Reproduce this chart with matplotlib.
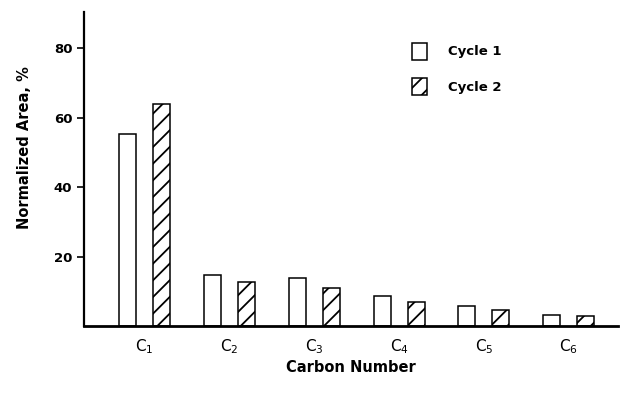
import numpy as np
import matplotlib
matplotlib.use("Agg")
import matplotlib.pyplot as plt

# values
carbon = ["C$_1$", "C$_2$", "C$_3$", "C$_4$", "C$_5$", "C$_6$"]
cycle1 = [55.3, 14.7, 13.8, 8.7, 5.8, 3.3]
cycle2 = [63.9, 12.7, 10.9, 6.8, 4.6, 2.8]

plt.rcParams['mathtext.default'] = 'regular'
plt.rcParams['hatch.linewidth'] = 1.3

fig = plt.figure(figsize=(6.32, 3.94), dpi=100)
ax = fig.add_axes([0.133, 0.1726, 0.845, 0.797])

x = np.arange(len(carbon))
w = 0.2
ax.bar(x - w, cycle1, w, color='white', edgecolor='black', linewidth=1.1, label='Cycle 1')
ax.bar(x + w, cycle2, w, color='white', edgecolor='black', linewidth=1.1, hatch='//', label='Cycle 2')

ax.set_xlim(-0.71, 5.58)
ax.set_ylim(0, 90.4)
ax.set_yticks([20, 40, 60, 80])
ax.set_xticks(x)
ax.set_xticklabels(carbon, fontsize=11)
ax.tick_params(axis='x', length=0, pad=8)
ax.tick_params(axis='y', length=5, width=1.2, labelsize=9.5)
for lab in ax.get_yticklabels():
    lab.set_fontweight('bold')

ax.spines['right'].set_visible(False)
ax.spines['top'].set_visible(False)
ax.spines['left'].set_linewidth(1.6)
ax.spines['bottom'].set_linewidth(2)

ax.set_ylabel("Normalized Area, %", fontsize=10.5, fontweight='bold')
ax.yaxis.set_label_coords(-0.097, 0.567)
ax.set_xlabel("Carbon Number", fontsize=10.5, fontweight='bold', labelpad=3)

ax.legend(loc='upper left', bbox_to_anchor=(0.592, 0.94), frameon=False,
          handlelength=1.1, handleheight=1.6, handletextpad=1.6, labelspacing=1.4,
          prop={'weight': 'bold', 'size': 9.5})

plt.savefig("out.png", dpi=100)
plt.close()
